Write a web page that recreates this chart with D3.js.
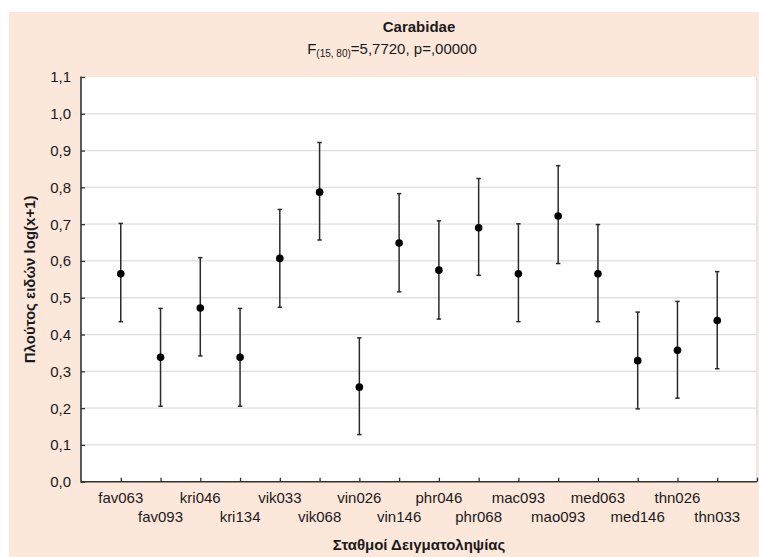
<!DOCTYPE html>
<html>
<head>
<meta charset="utf-8">
<script src="https://cdn.jsdelivr.net/npm/d3@7"></script>
<style>
  html, body { margin: 0; padding: 0; background: #ffffff; }
  svg text { font-family: "Liberation Sans", Arial, sans-serif; fill: #1a1a1a; }
</style>
</head>
<body>
<svg id="chart" width="759" height="557"></svg>
<script>
// Sampling stations and species richness, log(x+1): means with 95% intervals
const stations = ["fav063","fav093","kri046","kri134","vik033","vik068","vin026","vin146",
                  "phr046","phr068","mac093","mao093","med063","med146","thn026","thn033"];
const means = [0.565, 0.338, 0.472, 0.338, 0.607, 0.787, 0.257, 0.649,
               0.575, 0.690, 0.565, 0.722, 0.565, 0.329, 0.357, 0.438];
const lower = [0.435, 0.205, 0.342, 0.205, 0.474, 0.657, 0.128, 0.516,
               0.442, 0.561, 0.435, 0.593, 0.435, 0.198, 0.227, 0.307];
const upper = [0.702, 0.471, 0.609, 0.471, 0.740, 0.922, 0.391, 0.783,
               0.709, 0.824, 0.701, 0.859, 0.699, 0.461, 0.490, 0.571];
const yTicks = [0, 0.1, 0.2, 0.3, 0.4, 0.5, 0.6, 0.7, 0.8, 0.9, 1.0, 1.1];

const title = "Carabidae";
const xTitle = "Σταθμοί Δειγματοληψίας";
const yTitle = "Πλούτος ειδών log(x+1)";

const svg = d3.select("#chart");
const W = 759, H = 557;
const plot = { left: 81, right: 757, top: 77, bottom: 481.7 };

// panel background
svg.append("rect").attr("x", 9).attr("y", 12).attr("width", W - 9).attr("height", H - 12)
  .attr("fill", "#fce7db");
svg.append("rect").attr("x", plot.left).attr("y", plot.top)
  .attr("width", plot.right - plot.left).attr("height", plot.bottom - plot.top)
  .attr("fill", "#ffffff");
svg.append("line").attr("x1", plot.right - 0.5).attr("x2", plot.right - 0.5)
  .attr("y1", plot.top).attr("y2", plot.bottom).attr("stroke", "#e2e2e2").attr("stroke-width", 1);

const data = stations.map((s, i) => ({ s, i, m: means[i], lo: lower[i], hi: upper[i] }));

const x = d3.scaleLinear().domain([0, stations.length + 1]).range([plot.left, plot.right]);
const y = d3.scaleLinear().domain([0, 1.1]).range([plot.bottom, plot.top]);

// horizontal grid
svg.append("g").selectAll("line")
  .data(yTicks.filter(t => t > 0 && t < 1.1))
  .join("line")
  .attr("x1", plot.left).attr("x2", plot.right - 1)
  .attr("y1", d => y(d)).attr("y2", d => y(d))
  .attr("stroke", "#dedede").attr("stroke-width", 1.3);

// y axis (ticks point inward)
const fmt = d => d3.format(".1f")(d).replace(".", ",");
const yAxis = d3.axisRight(y).tickValues(yTicks).tickSize(4).tickFormat("");
const gy = svg.append("g").attr("transform", `translate(${plot.left},0)`).call(yAxis);
gy.select(".domain").remove();
gy.selectAll(".tick line").attr("stroke", "#333").attr("stroke-width", 1.3);
svg.append("g").selectAll("text").data(yTicks).join("text")
  .attr("x", plot.left - 10).attr("y", d => y(d)).attr("dy", "0.36em")
  .attr("text-anchor", "end").attr("font-size", 15).text(fmt);

// x axis ticks (inward), one per station plus one at the right end
const xTickVals = d3.range(1, stations.length + 2);
const xAxis = d3.axisTop(x).tickValues(xTickVals).tickSize(4).tickFormat("");
const gx = svg.append("g").attr("transform", `translate(0,${plot.bottom})`).call(xAxis);
gx.select(".domain").remove();
gx.selectAll(".tick line").attr("stroke", "#333").attr("stroke-width", 1.3);

// axis lines
svg.append("line").attr("x1", plot.left).attr("x2", plot.left)
  .attr("y1", plot.top - 0.5).attr("y2", plot.bottom + 0.8)
  .attr("stroke", "#333").attr("stroke-width", 1.6);
svg.append("line").attr("x1", plot.left).attr("x2", plot.right)
  .attr("y1", plot.bottom).attr("y2", plot.bottom)
  .attr("stroke", "#333").attr("stroke-width", 1.6);

// staggered station labels
svg.append("g").selectAll("text").data(data).join("text")
  .attr("x", d => x(d.i + 1))
  .attr("y", d => d.i % 2 === 0 ? 503 : 522)
  .attr("text-anchor", "middle").attr("font-size", 15)
  .text(d => d.s);

// error bars
const cap = 2.2;
const eb = svg.append("g").attr("stroke", "#2a2a2a").attr("stroke-width", 1.5);
eb.selectAll("line.v").data(data).join("line").attr("class", "v")
  .attr("x1", d => x(d.i + 1)).attr("x2", d => x(d.i + 1))
  .attr("y1", d => y(d.lo)).attr("y2", d => y(d.hi));
eb.selectAll("line.t").data(data).join("line").attr("class", "t")
  .attr("x1", d => x(d.i + 1) - cap).attr("x2", d => x(d.i + 1) + cap)
  .attr("y1", d => y(d.hi)).attr("y2", d => y(d.hi));
eb.selectAll("line.b").data(data).join("line").attr("class", "b")
  .attr("x1", d => x(d.i + 1) - cap).attr("x2", d => x(d.i + 1) + cap)
  .attr("y1", d => y(d.lo)).attr("y2", d => y(d.lo));

// means
svg.append("g").selectAll("circle").data(data).join("circle")
  .attr("cx", d => x(d.i + 1)).attr("cy", d => y(d.m)).attr("r", 3.8)
  .attr("fill", "#000");

// titles
svg.append("text").attr("x", 419).attr("y", 32).attr("text-anchor", "middle")
  .attr("font-size", 15).attr("font-weight", "bold").text(title);
const sub = svg.append("text").attr("x", 392).attr("y", 54).attr("text-anchor", "middle")
  .attr("font-size", 15);
sub.append("tspan").text("F");
sub.append("tspan").attr("font-size", 10).attr("dy", 3).text("(15, 80)");
sub.append("tspan").attr("dy", -3).text("=5,7720, p=,00000");

svg.append("text").attr("x", 419).attr("y", 550).attr("text-anchor", "middle")
  .attr("font-size", 15).attr("font-weight", "bold").text(xTitle);
svg.append("text").attr("transform", `translate(35,${(plot.top + plot.bottom) / 2}) rotate(-90)`)
  .attr("text-anchor", "middle").attr("font-size", 15).attr("font-weight", "bold").text(yTitle);
</script>
</body>
</html>
